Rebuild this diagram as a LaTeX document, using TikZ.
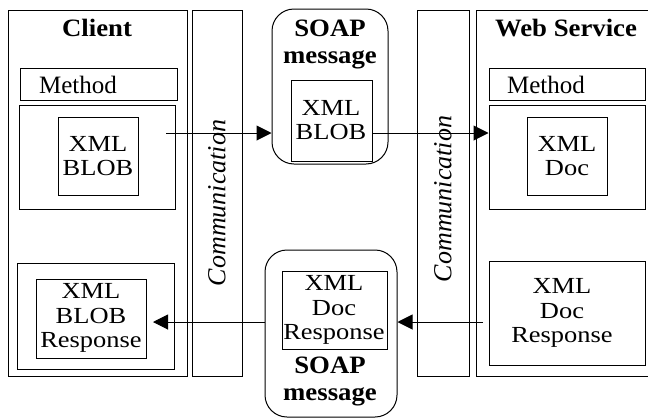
\documentclass[tikz,border=0pt]{standalone}
\usepackage{fontspec}
\setmainfont{Liberation Serif}
\newfontfamily\wideserif[FakeStretch=1.15]{Liberation Serif}
\newfontfamily\ttlserif[FakeStretch=1.07]{Liberation Serif}
\usetikzlibrary{arrows.meta,fit}
\begin{document}
\begin{tikzpicture}[x=1pt,y=-1pt,
  box/.style={draw,line width=1pt,inner sep=0pt},
  soap/.style={draw,line width=1pt,inner sep=0pt,rounded corners=22pt},
  ttl/.style={font=\ttlserif\fontsize{25}{27}\selectfont\bfseries,align=center,inner sep=0pt},
  lbl/.style={font=\wideserif\fontsize{23}{24.5}\selectfont,align=center,inner sep=0pt},
  meth/.style={font=\fontsize{25}{27}\selectfont,inner sep=0pt},
  comm/.style={font=\fontsize{26}{28}\selectfont\itshape,rotate=90,inner sep=0pt},
  arr/.style={line width=1pt,-{Triangle[length=15pt,width=15pt]}}]
\useasboundingbox (0,0) rectangle (648,418);
% Client side
\node[box,fit={(8,10) (187,376)}] (client) {};
\node[box,fit={(192,10) (242,376)}] (comm1) {};
\node[box,fit={(20,68) (177,100)}] (cmeth) {};
\node[box,fit={(19,105) (175,209)}] (cup) {};
\node[box,fit={(58,117) (138,195)}] (cblob) {};
\node[box,fit={(17,263) (174,369)}] (clow) {};
\node[box,fit={(36,279) (146,358)}] (cresp) {};
\node[ttl] (clientt) at (97,28) {Client};
\node[meth] (cmetht) at (78,85) {Method};
\node[lbl] (cblobt) at (98,156) {XML\\BLOB};
\node[lbl] (crespt) at (91,318) {XML\\BLOB\\Response};
\node[comm] (comm1t) at (217,203) {Communication};
% SOAP top
\node[soap,fit={(272,9) (388,164)}] (soap1) {};
\node[box,fit={(291,80) (372,161)}] (sblob) {};
\node[ttl] (soap1t) at (330,44) {SOAP\\message};
\node[lbl] (sblobt) at (331,120) {XML\\BLOB};
% SOAP bottom
\node[soap,fit={(265,250) (397,417)}] (soap2) {};
\node[box,fit={(282,271) (387,349)}] (sresp) {};
\node[lbl] (srespt) at (334,310) {XML\\Doc\\Response};
\node[ttl] (soap2t) at (330,381) {SOAP\\message};
% Web service side
\node[box,fit={(417,10) (469,376)}] (comm2) {};
\draw[line width=1pt] (650,10) -- (476,10) -- (476,376) -- (650,376);
\node[box,fit={(489,68) (645,100)}] (wmeth) {};
\node[box,fit={(489,105) (645,209)}] (wup) {};
\node[box,fit={(527,117) (607,195)}] (wdoc) {};
\node[box,fit={(489,261) (645,365)}] (wlow) {};
\node[ttl] (wst) at (566,28) {Web Service};
\node[meth] (wmetht) at (546,85) {Method};
\node[lbl] (wdoct) at (567,156) {XML\\Doc};
\node[lbl] (wrespt) at (562,313) {XML\\Doc\\Response};
\node[comm] (comm2t) at (443,199) {Communication};
% arrows
\coordinate (a1s) at (166,133);
\coordinate (a3s) at (483,322);
\draw[arr] (a1s) -- (a1s -| soap1.west);
\draw[arr] (sblob.east |- a1s) -- (a1s -| wup.west);
\draw[arr] (a3s) -- (a3s -| soap2.east);
\coordinate (a4e) at (153,322);
\draw[arr] (a3s -| soap2.west) -- (a4e);
\end{tikzpicture}
\end{document}
